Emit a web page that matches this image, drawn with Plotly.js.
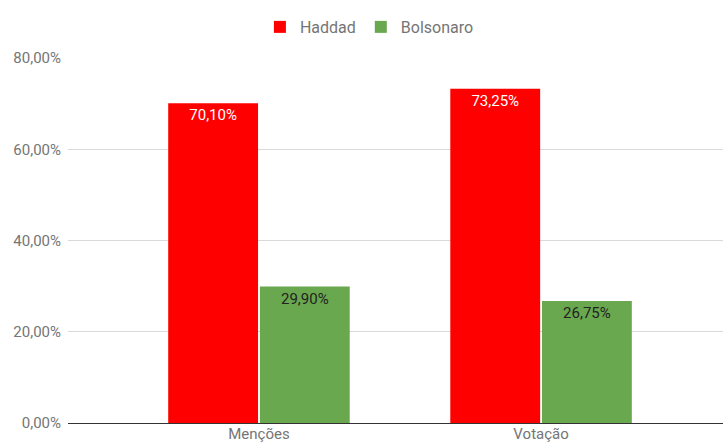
<!DOCTYPE html>
<html>
<head>
<meta charset="utf-8">
<script src="https://cdn.plot.ly/plotly-3.0.1.min.js"></script>
<style>html,body{margin:0;padding:0;background:#fff;}#chart{width:723px;height:443px;}</style>
</head>
<body>
<div id="chart"></div>
<script>
var categories = ["Menções", "Votação"];
var haddad = [70.10, 73.25];
var bolsonaro = [29.90, 26.75];
var yTicks = [0, 20, 40, 60, 80];
var yTickLabels = ["0,00%", "20,00%", "40,00%", "60,00%", "80,00%"];

var traces = [
  {
    type: "bar", name: "Haddad", x: categories, y: haddad,
    marker: {color: "#ff0000"},
    texttemplate: "%{y:.2f}%", textposition: "inside", insidetextanchor: "end",
    textangle: 0,
    insidetextfont: {family: "Roboto, Arial, sans-serif", size: 15, color: "#ffffff"},
    hoverinfo: "none"
  },
  {
    type: "bar", name: "Bolsonaro", x: categories, y: bolsonaro,
    marker: {color: "#6aa84f"},
    texttemplate: "%{y:.2f}%", textposition: "inside", insidetextanchor: "end",
    textangle: 0,
    insidetextfont: {family: "Roboto, Arial, sans-serif", size: 15, color: "#222222"},
    hoverinfo: "none"
  }
];

var layout = {
  width: 723, height: 443,
  margin: {l: 68, r: 0, t: 58, b: 20, autoexpand: false},
  paper_bgcolor: "#ffffff", plot_bgcolor: "#ffffff",
  separators: ", ",
  font: {family: "Roboto, Arial, sans-serif", size: 15, color: "#757575"},
  barmode: "group", bargap: 0.35, bargroupgap: 0.02,
  showlegend: true,
  legend: {orientation: "h", x: 0.293, xanchor: "left", y: 1.085, yanchor: "middle",
           font: {size: 16, color: "#757575"}, traceorder: "normal"},
  xaxis: {
    type: "category", range: [-0.677, 1.645],
    showgrid: false, ticks: "", showline: false, zeroline: false,
    tickfont: {size: 15, color: "#757575"}
  },
  yaxis: {
    range: [0, 80], tickmode: "array", tickvals: yTicks, ticktext: yTickLabels,
    showgrid: true, gridcolor: "#d9d9d9", gridwidth: 1,
    zeroline: true, zerolinecolor: "#333333", zerolinewidth: 1,
    ticks: "", ticklabelstandoff: 6, tickfont: {size: 15, color: "#757575"}, automargin: false
  }
};

Plotly.newPlot("chart", traces, layout, {displayModeBar: false, staticPlot: true});
</script>
</body>
</html>
